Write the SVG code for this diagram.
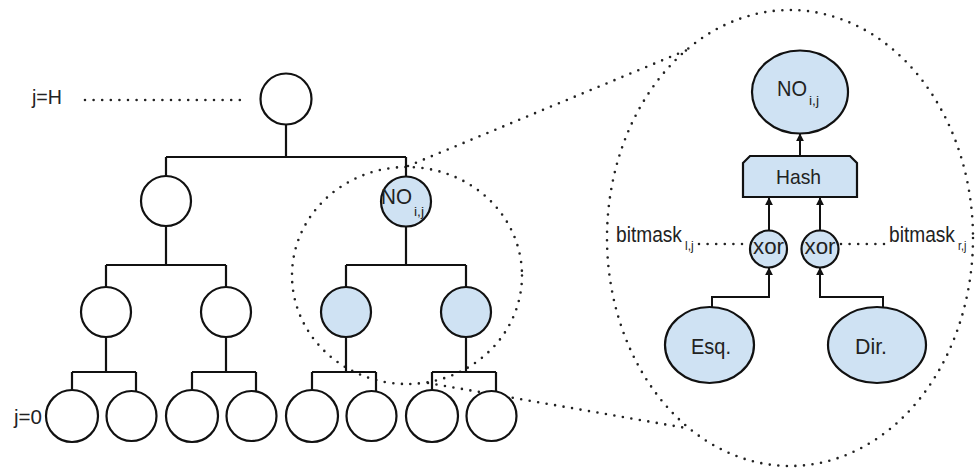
<svg xmlns="http://www.w3.org/2000/svg" width="976" height="471" viewBox="0 0 976 471">
<style>
.n{fill:#fff;stroke:#111;stroke-width:2.2}
.b{fill:#cfe2f3;stroke:#111;stroke-width:2.2}
.e{fill:none;stroke:#111;stroke-width:2.2}
.a{fill:none;stroke:#111;stroke-width:2;marker-end:url(#ah)}
.d{fill:none;stroke:#222;stroke-width:2.6;stroke-linecap:round;stroke-dasharray:0 8.6}
text{font-family:"Liberation Sans",Arial,sans-serif;font-size:22px;fill:#222}
.s{font-size:12px}
</style>
<defs>
<marker id="ah" viewBox="0 0 10 10" refX="9" refY="5" markerWidth="8" markerHeight="8" markerUnits="userSpaceOnUse" orient="auto">
<path d="M0,0 L10,5 L0,10 Z" fill="#111"/>
</marker>
</defs>
<rect width="976" height="471" fill="#fff"/>
<g id="zoom-guides">
<ellipse class="d" cx="407" cy="275.5" rx="115" ry="108.5"/>
<ellipse class="d" cx="790" cy="238" rx="183" ry="228"/>
<line class="d" x1="408" y1="166" x2="687" y2="50"/>
<line class="d" x1="428" y1="383" x2="686" y2="428"/>
<line class="d" x1="85" y1="100" x2="242" y2="100"/>
<line class="d" x1="699" y1="244" x2="748" y2="244"/>
<line class="d" x1="841" y1="244" x2="887" y2="244"/>
</g>
<g id="connectors">
<path class="e" d="M286,124 V157 M166,157 H406 M166,157 V176 M406,157 V176"/>
<path class="e" d="M166,226 V265 M106,265 H226 M106,265 V287 M226,265 V287"/>
<path class="e" d="M406,226 V265 M346,265 H466 M346,265 V287 M466,265 V287"/>
<path class="e" d="M106,337 V372 M72,372 H136 M72,372 V390 M136,372 V391"/>
<path class="e" d="M226,337 V372 M192,372 H256 M192,372 V390 M256,372 V391"/>
<path class="e" d="M346,337 V372 M312,372 H376 M312,372 V390 M376,372 V391"/>
<path class="e" d="M466,337 V372 M432,372 H496 M432,372 V390 M496,372 V391"/>
<path class="a" d="M800,156 V134"/>
<path class="a" d="M769,230 V198"/>
<path class="a" d="M820,230 V198"/>
<path class="a" d="M712,307 V297 H769 V268"/>
<path class="a" d="M883,307 V297 H820 V268"/>
</g>
<g id="root"><circle class="n" cx="286" cy="99" r="25.5"/></g>
<g id="l2a"><circle class="n" cx="166" cy="201" r="25"/></g>
<g id="l2b"><circle class="b" cx="406" cy="201.5" r="25"/><text x="381" y="204" textLength="31" lengthAdjust="spacingAndGlyphs">NO</text><text class="s" x="414" y="216" textLength="10" lengthAdjust="spacingAndGlyphs">i,j</text></g>
<g id="l3a"><circle class="n" cx="106" cy="312" r="25"/></g>
<g id="l3b"><circle class="n" cx="226" cy="312" r="25"/></g>
<g id="l3c"><circle class="b" cx="346" cy="312" r="25"/></g>
<g id="l3d"><circle class="b" cx="466" cy="312" r="25"/></g>
<g id="leaf1"><circle class="n" cx="72" cy="416" r="26"/></g>
<g id="leaf2"><circle class="n" cx="131.5" cy="416" r="25"/></g>
<g id="leaf3"><circle class="n" cx="192" cy="416" r="26"/></g>
<g id="leaf4"><circle class="n" cx="251.5" cy="416" r="25"/></g>
<g id="leaf5"><circle class="n" cx="312" cy="416" r="26"/></g>
<g id="leaf6"><circle class="n" cx="371.5" cy="416" r="25"/></g>
<g id="leaf7"><circle class="n" cx="432" cy="416" r="26"/></g>
<g id="leaf8"><circle class="n" cx="491.5" cy="416" r="25"/></g>
<g id="label-jH"><text x="32" y="104" style="font-size:20px" textLength="30" lengthAdjust="spacingAndGlyphs">j=H</text></g>
<g id="label-j0"><text x="14" y="424" style="font-size:20px" textLength="28" lengthAdjust="spacingAndGlyphs">j=0</text></g>
<g id="zoom-no"><ellipse class="b" cx="800" cy="92" rx="48" ry="41.5"/><text x="777" y="96" textLength="30" lengthAdjust="spacingAndGlyphs">NO</text><text class="s" x="809" y="105" textLength="10" lengthAdjust="spacingAndGlyphs">i,j</text></g>
<g id="hash"><polygon class="b" points="743,163 750,156 850,156 857,163 857,197 743,197"/><text x="776" y="184" style="font-size:21px" textLength="45" lengthAdjust="spacingAndGlyphs">Hash</text></g>
<g id="xor-l"><circle class="b" cx="768.5" cy="249" r="18.5"/><text x="753" y="254" textLength="31" lengthAdjust="spacingAndGlyphs">xor</text></g>
<g id="xor-r"><circle class="b" cx="820" cy="249" r="18.5"/><text x="804.5" y="254" textLength="31" lengthAdjust="spacingAndGlyphs">xor</text></g>
<g id="esq"><ellipse class="b" cx="709.5" cy="345" rx="44.5" ry="38"/><text x="691" y="354" textLength="40" lengthAdjust="spacingAndGlyphs">Esq.</text></g>
<g id="dir"><ellipse class="b" cx="877" cy="345" rx="49" ry="38"/><text x="855" y="354" textLength="32" lengthAdjust="spacingAndGlyphs">Dir.</text></g>
<g id="bitmask-l"><text transform="translate(616,242) scale(0.87,1)">bitmask</text><text class="s" x="685" y="250">l,j</text></g>
<g id="bitmask-r"><text transform="translate(889,242) scale(0.87,1)">bitmask</text><text class="s" x="958" y="250" transform="translate(958,0) scale(0.9,1) translate(-958,0)">r,j</text></g>
</svg>
